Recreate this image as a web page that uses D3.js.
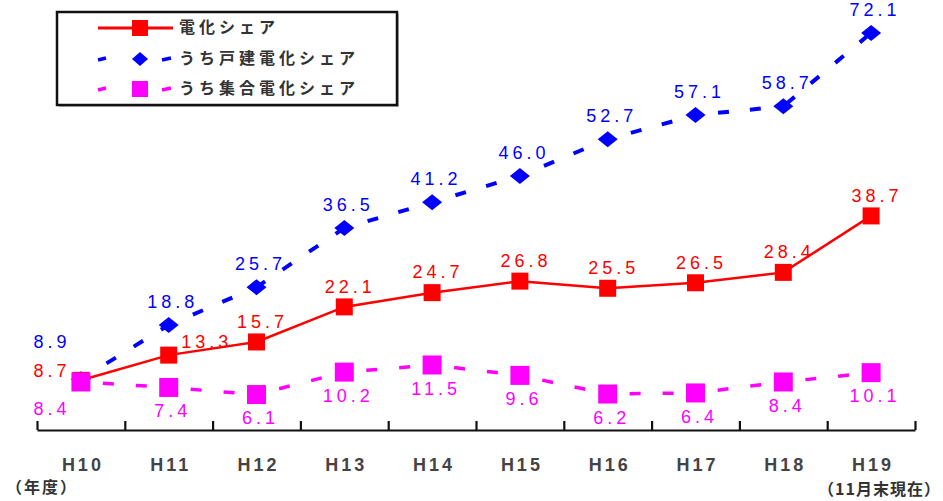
<!DOCTYPE html>
<html>
<head>
<meta charset="utf-8">
<script src="https://cdn.jsdelivr.net/npm/d3@7"></script>
<style>
  body { margin: 0; background: #fff; }
  svg { display: block; }
</style>
</head>
<body>
<svg id="chart" width="943" height="501"></svg>
<script>
var years = ["H10", "H11", "H12", "H13", "H14", "H15", "H16", "H17", "H18", "H19"];
var allShare = [8.7, 13.3, 15.7, 22.1, 24.7, 26.8, 25.5, 26.5, 28.4, 38.7];
var houseShare = [8.9, 18.8, 25.7, 36.5, 41.2, 46.0, 52.7, 57.1, 58.7, 72.1];
var apartShare = [8.4, 7.4, 6.1, 10.2, 11.5, 9.6, 6.2, 6.4, 8.4, 10.1];
var seriesNames = ["電化シェア", "うち戸建電化シェア", "うち集合電化シェア"];

var width = 943, height = 501;
var svg = d3.select("#chart");
var font = "'Liberation Sans', Arial, sans-serif";
var jpFont = "'Noto Sans CJK JP', sans-serif";

var x = d3.scaleBand().domain(years).range([37, 915]).padding(0);
var xTick = d3.scaleLinear().domain([0, 10]).range([37, 915]);
var y = d3.scaleLinear().domain([0, 80]).range([428, 428 - 80 * 5.48]);
var cx = function (d) { return x(d) + x.bandwidth() / 2; };

// axis
var axisG = svg.append("g").attr("transform", "translate(0,430)");
axisG.call(d3.axisBottom(xTick).ticks(10).tickSizeInner(-9).tickSizeOuter(0).tickFormat(""));
axisG.select(".domain").attr("stroke", "#111").attr("stroke-width", 2.2);
axisG.selectAll(".tick line").attr("stroke", "#111").attr("stroke-width", 2.2);

svg.append("g").selectAll("text")
    .data(years).enter().append("text")
    .attr("x", function (d) { return cx(d) + 2; })
    .attr("y", 466)
    .attr("text-anchor", "middle")
    .attr("dominant-baseline", "middle")
    .style("font-family", font).style("font-size", "18px").style("font-weight", "bold")
    .style("letter-spacing", "3px").style("fill", "#444")
    .text(function (d) { return d; });

svg.append("text").attr("x", 6).attr("y", 489).attr("dominant-baseline", "middle")
    .style("font-family", jpFont).style("font-size", "16px").style("fill", "#333").style("font-weight", "bold")
    .style("letter-spacing", "2px").text("（年度）");
svg.append("text").attr("x", 941).attr("y", 491).attr("text-anchor", "end").attr("dominant-baseline", "middle")
    .style("font-family", jpFont).style("font-size", "16px").style("fill", "#333").style("font-weight", "bold")
    .style("letter-spacing", "1px").text("（11月末現在）");

// dashed segments, pattern centred on each segment
function dashedSegments(g, values, color, sw, dash, gap) {
    for (var i = 0; i < values.length - 1; i++) {
        var x1 = cx(years[i]), y1 = y(values[i]);
        var x2 = cx(years[i + 1]), y2 = y(values[i + 1]);
        var L = Math.sqrt((x2 - x1) * (x2 - x1) + (y2 - y1) * (y2 - y1));
        var start = L / 2 - gap / 2 - dash;
        var period = dash + gap;
        var off = ((-start % period) + period) % period;
        g.append("line")
            .attr("x1", x1).attr("y1", y1).attr("x2", x2).attr("y2", y2)
            .attr("stroke", color).attr("stroke-width", sw)
            .attr("stroke-dasharray", dash + "," + gap)
            .attr("stroke-dashoffset", off);
    }
}

var blue = "#0000ff", red = "#ff0000", pink = "#ff00ff";

// blue
var gb = svg.append("g");
dashedSegments(gb, houseShare, blue, 4, 11, 21);
gb.selectAll("path.m").data(houseShare).enter().append("path")
    .attr("d", "M0,-8 L10,0 L0,8 L-10,0 Z")
    .attr("transform", function (d, i) { return "translate(" + cx(years[i]) + "," + y(d) + ")"; })
    .attr("fill", blue);

// red
var gr = svg.append("g");
gr.append("path").datum(allShare)
    .attr("d", d3.line().x(function (d, i) { return cx(years[i]); }).y(function (d) { return y(d); }))
    .attr("fill", "none").attr("stroke", red).attr("stroke-width", 2.5);
gr.selectAll("rect").data(allShare).enter().append("rect")
    .attr("x", function (d, i) { return cx(years[i]) - 8.5; })
    .attr("y", function (d) { return y(d) - 8.5; })
    .attr("width", 17).attr("height", 17).attr("fill", red);

// pink (drawn last, sits on top at H10)
var gp = svg.append("g");
dashedSegments(gp, apartShare, pink, 3.5, 11, 22);
gp.selectAll("rect").data(apartShare).enter().append("rect")
    .attr("x", function (d, i) { return cx(years[i]) - 9.5; })
    .attr("y", function (d) { return y(d) - 9.5; })
    .attr("width", 19).attr("height", 19).attr("fill", pink);

// value labels
var labelOffsets = {
    house: function (i) { return i === 0 ? [-31, -36] : [2, -22]; },
    all: function (i) { return i === 0 ? [-31, -8] : (i === 1 ? [36, -12] : [4, -19]); },
    apart: function (i) { return i === 0 ? [-31, 28] : [2, 25]; }
};
function addLabels(values, color, offs) {
    svg.append("g").selectAll("text").data(values).enter().append("text")
        .attr("x", function (d, i) { return cx(years[i]) + offs(i)[0] + 2; })
        .attr("y", function (d, i) { return y(d) + offs(i)[1]; })
        .attr("text-anchor", "middle").attr("dominant-baseline", "middle")
        .style("font-family", font).style("font-size", "18px")
        .style("letter-spacing", "4px").style("fill", color)
        .text(function (d) { return d.toFixed(1); });
}
addLabels(houseShare, blue, labelOffsets.house);
addLabels(allShare, red, labelOffsets.all);
addLabels(apartShare, pink, labelOffsets.apart);

// legend
var lg = svg.append("g");
lg.append("rect").attr("x", 59).attr("y", 14).attr("width", 340).attr("height", 93).attr("fill", "#bbb");
lg.append("rect").attr("x", 57).attr("y", 12).attr("width", 340).attr("height", 93)
    .attr("fill", "#fff").attr("stroke", "#111").attr("stroke-width", 2.5);
var rowsY = [28, 59, 89];
var colors = [red, blue, pink];
[0, 1, 2].forEach(function (k) {
    var yy = rowsY[k];
    if (k === 0) {
        lg.append("line").attr("x1", 98).attr("x2", 173).attr("y1", yy).attr("y2", yy)
            .attr("stroke", red).attr("stroke-width", 3);
        lg.append("rect").attr("x", 132).attr("y", yy - 8).attr("width", 16).attr("height", 16).attr("fill", red);
    } else {
        [[98, 106], [162, 171]].forEach(function (s) {
            lg.append("line").attr("x1", s[0]).attr("x2", s[1]).attr("y1", yy + 1).attr("y2", yy - 1)
                .attr("stroke", colors[k]).attr("stroke-width", 3.5);
        });
        if (k === 1) {
            lg.append("path").attr("d", "M0,-7 L8,0 L0,7 L-8,0 Z")
                .attr("transform", "translate(140," + yy + ")").attr("fill", blue);
        } else {
            lg.append("rect").attr("x", 132).attr("y", yy - 8).attr("width", 16).attr("height", 16).attr("fill", pink);
        }
    }
    lg.append("text").attr("x", 179).attr("y", yy + 1).attr("dominant-baseline", "middle")
        .style("font-family", jpFont).style("font-size", "16px").style("font-weight", "bold")
        .style("letter-spacing", "4px").style("fill", "#333")
        .text(seriesNames[k]);
});
</script>
</body>
</html>
